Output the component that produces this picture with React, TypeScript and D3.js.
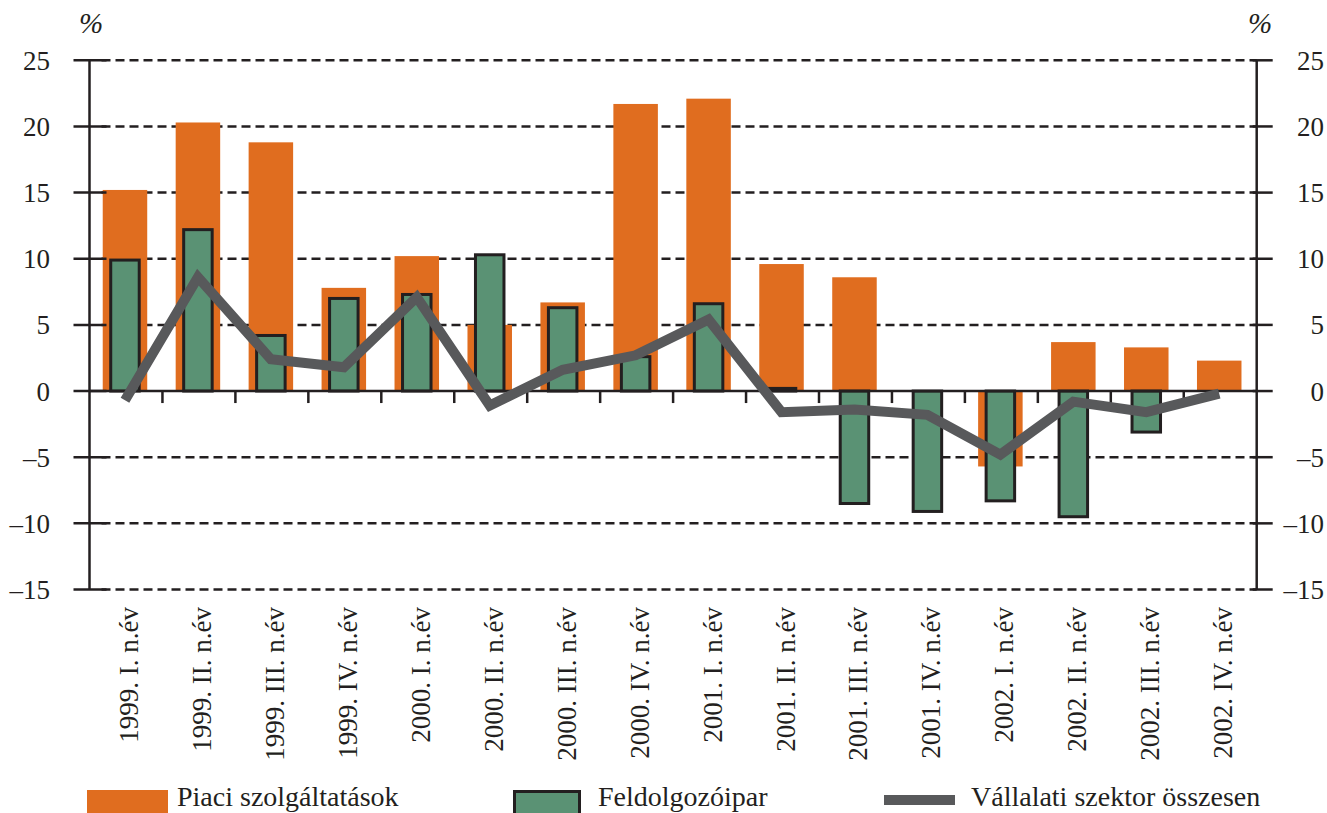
import React from "react";
import * as d3 from "d3";

const categories = [
  "1999. I. n.év", "1999. II. n.év", "1999. III. n.év", "1999. IV. n.év",
  "2000. I. n.év", "2000. II. n.év", "2000. III. n.év", "2000. IV. n.év",
  "2001. I. n.év", "2001. II. n.év", "2001. III. n.év", "2001. IV. n.év",
  "2002. I. n.év", "2002. II. n.év", "2002. III. n.év", "2002. IV. n.év",
];
const piaci = [15.2, 20.3, 18.8, 7.8, 10.2, 5.0, 6.7, 21.7, 22.1, 9.6, 8.6, 0, -5.7, 3.7, 3.3, 2.3];
const feldolgozo = [9.9, 12.2, 4.2, 7.0, 7.3, 10.3, 6.3, 2.6, 6.6, 0.2, -8.5, -9.1, -8.3, -9.5, -3.1, 0];
const osszesen = [-0.7, 8.6, 2.4, 1.8, 7.1, -1.1, 1.6, 2.7, 5.4, -1.6, -1.4, -1.8, -4.8, -0.8, -1.6, -0.2];
const yTicks = [25, 20, 15, 10, 5, 0, -5, -10, -15];
const legendLabels = ["Piaci szolgáltatások", "Feldolgozóipar", "Vállalati szektor összesen"];

const ORANGE = "#e06d1f";
const GREEN = "#5a9274";
const DARK = "#231f20";
const GREY = "#58595b";
const FONT = "'Liberation Serif', 'Times New Roman', serif";

export default function App() {
  const W = 1327, H = 813;
  const left = 89.5, right = 1256.7;
  const x = d3.scaleBand<string>().domain(categories).range([left, right]).padding(0);
  const y = d3.scaleLinear().domain([-15, 25]).range([589.5, 60.3]);
  const bw = x.bandwidth();
  const cx = (c: string) => (x(c) as number) + bw / 2 - 1;
  const oW = 44.5, gW = 28.5;
  const fmt = (v: number) => (v < 0 ? "–" + Math.abs(v) : String(v));
  const line = d3.line<number>().x((_, i) => cx(categories[i])).y((v) => y(v));

  return (
    <svg width={W} height={H} style={{ position: "absolute", left: 0, top: 0, background: "#fff" }} fontFamily={FONT}>
      {yTicks.filter((t) => t !== 0).map((t) => (
        <line key={"g" + t} x1={left + 12} x2={right} y1={y(t)} y2={y(t)} stroke={DARK} strokeWidth={2.5} strokeDasharray="9,5" />
      ))}
      {piaci.map((v, i) => v !== 0 && (
        <rect key={"o" + i} x={cx(categories[i]) - oW / 2} width={oW} y={Math.min(y(v), y(0))} height={Math.abs(y(v) - y(0))} fill={ORANGE} />
      ))}
      {feldolgozo.map((v, i) => v !== 0 && (
        <rect key={"f" + i} x={cx(categories[i]) - gW / 2} width={gW} y={Math.min(y(v), y(0))} height={Math.abs(y(v) - y(0))} fill={GREEN} stroke={DARK} strokeWidth={3} />
      ))}
      <line x1={left} x2={right} y1={y(0)} y2={y(0)} stroke={DARK} strokeWidth={2.5} />
      {categories.slice(1).map((c) => (
        <line key={"xt" + c} x1={x(c) as number} x2={x(c) as number} y1={y(0)} y2={y(0) + 12} stroke={DARK} strokeWidth={2.5} />
      ))}
      <line x1={left} x2={left} y1={y(25)} y2={y(-15)} stroke={DARK} strokeWidth={2.5} />
      <line x1={right} x2={right} y1={y(25)} y2={y(-15)} stroke={DARK} strokeWidth={2.5} />
      {yTicks.map((t) => (
        <g key={"yt" + t}>
          <line x1={left - 16} x2={left + 17} y1={y(t)} y2={y(t)} stroke={DARK} strokeWidth={2.5} />
          <line x1={right - 4} x2={right + 16} y1={y(t)} y2={y(t)} stroke={DARK} strokeWidth={2.5} />
          <text x={50} y={y(t)} dy="0.35em" textAnchor="end" fontSize={27} fill={DARK}>{fmt(t)}</text>
          <text x={1324} y={y(t)} dy="0.35em" textAnchor="end" fontSize={27} fill={DARK}>{fmt(t)}</text>
        </g>
      ))}
      <text x={91} y={33} textAnchor="middle" fontSize={29} fontStyle="italic" fill={DARK}>%</text>
      <text x={1260} y={33} textAnchor="middle" fontSize={29} fontStyle="italic" fill={DARK}>%</text>
      <path d={line(osszesen) || ""} fill="none" stroke={GREY} strokeWidth={10} strokeLinejoin="miter" strokeLinecap="butt" />
      {categories.map((c) => (
        <text key={"xl" + c} transform={`translate(${cx(c) + 13},607) rotate(-90)`} textAnchor="end" fontSize={27} fill={DARK}>{c}</text>
      ))}
      <rect x={87} y={790} width={81} height={30} fill={ORANGE} />
      <text x={177} y={806} fontSize={28} fill={DARK}>{legendLabels[0]}</text>
      <rect x={514.5} y={791.5} width={65} height={30} fill={GREEN} stroke={DARK} strokeWidth={3} />
      <text x={598} y={806} fontSize={28} fill={DARK}>{legendLabels[1]}</text>
      <line x1={884} x2={955} y1={800} y2={800} stroke={GREY} strokeWidth={10} />
      <text x={971} y={806} fontSize={28} fill={DARK}>{legendLabels[2]}</text>
    </svg>
  );
}
